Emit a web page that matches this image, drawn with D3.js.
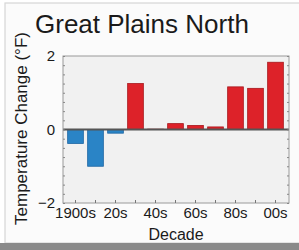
<!DOCTYPE html>
<html>
<head>
<meta charset="utf-8">
<script src="https://cdn.jsdelivr.net/npm/d3@7"></script>
<style>
  body { margin: 0; background: #ffffff; }
  text { font-family: "Liberation Sans", Arial, sans-serif; fill: #1a1a1a; }
</style>
</head>
<body>
<div id="chart"></div>
<script>
// data
var decades = ["1900s","10s","20s","30s","40s","50s","60s","70s","80s","90s","00s"];
var changes = [-0.38, -1.0, -0.1, 1.25, 0.01, 0.16, 0.11, 0.07, 1.16, 1.12, 1.83];
var tickLabels = ["1900s","20s","40s","60s","80s","00s"];
var yTicks = [-2, 0, 2];

var W = 299, H = 250;
var plot = { left: 63, right: 289, top: 56, bottom: 203 };

var svg = d3.select("#chart").append("svg")
    .attr("width", W)
    .attr("height", H);

// page frame
svg.append("rect").attr("x",0).attr("y",0).attr("width",W).attr("height",H).attr("fill","#ffffff");
svg.append("rect").attr("x",5).attr("y",3).attr("width",W).attr("height",240)
    .attr("fill","#fbfbfb").attr("stroke","#d6d6d6").attr("stroke-width",1.2);
svg.append("rect").attr("x",0).attr("y",243).attr("width",W).attr("height",7).attr("fill","#8a8a8a");

var xScale = d3.scaleBand()
    .domain(decades)
    .range([65.5, 285.5])
    .paddingInner(0.215)
    .paddingOuter(0.1075);
var yScale = d3.scaleLinear()
    .domain([-2, 2])
    .range([plot.bottom, plot.top]);

// plot background
svg.append("rect")
    .attr("x", plot.left).attr("y", plot.top)
    .attr("width", plot.right - plot.left).attr("height", plot.bottom - plot.top)
    .attr("fill", "#f1f1f1");

// bars
svg.selectAll(".bar")
    .data(changes)
    .enter().append("rect")
    .attr("class","bar")
    .attr("x", function(d,i){return xScale(decades[i])})
    .attr("width", xScale.bandwidth())
    .attr("y", function(d){return yScale(Math.max(0,d))})
    .attr("height", function(d){return Math.abs(yScale(d) - yScale(0))})
    .attr("fill", function(d){return d < 0 ? "#2a84c6" : "#dd2229"})
    .attr("stroke", function(d){return d < 0 ? "#1d66a3" : "#a8161b"})
    .attr("stroke-width", 0.8);

// zero line
svg.append("line")
    .attr("x1", plot.left).attr("x2", plot.right)
    .attr("y1", yScale(0)).attr("y2", yScale(0))
    .attr("stroke","#555555").attr("stroke-width",2);

// frame
svg.append("rect")
    .attr("x", plot.left).attr("y", plot.top)
    .attr("width", plot.right - plot.left).attr("height", plot.bottom - plot.top)
    .attr("fill","none").attr("stroke","#9a9a9a").attr("stroke-width",1);

// minor ticks every 0.25 on both sides, pointing in
var minor = d3.range(-2, 2.001, 0.25);
svg.append("g")
    .attr("transform","translate(" + plot.left + ",0)")
    .call(d3.axisRight(yScale).tickValues(minor).tickSize(2).tickFormat(""))
    .call(function(g){ g.select(".domain").remove(); g.selectAll("line").attr("stroke","#888"); });
svg.append("g")
    .attr("transform","translate(" + plot.right + ",0)")
    .call(d3.axisLeft(yScale).tickValues(minor).tickSize(2).tickFormat(""))
    .call(function(g){ g.select(".domain").remove(); g.selectAll("line").attr("stroke","#888"); });

// y labels
svg.append("g")
    .attr("transform","translate(" + plot.left + ",0)")
    .call(d3.axisLeft(yScale).tickValues(yTicks).tickSize(0).tickPadding(8).tickFormat(d3.format("d")))
    .call(function(g){
        g.select(".domain").remove();
        g.selectAll("text").style("font-size","15px").style("font-family","Liberation Sans, Arial, sans-serif").attr("fill","#1a1a1a");
    });

// x axis: ticks at each bar, labels every other one
svg.append("g")
    .attr("transform","translate(0," + plot.bottom + ")")
    .call(d3.axisTop(xScale).tickSize(3).tickFormat(""))
    .call(function(g){ g.select(".domain").remove(); g.selectAll("line").attr("stroke","#777"); });
svg.append("g")
    .attr("transform","translate(0," + plot.bottom + ")")
    .call(d3.axisBottom(xScale).tickValues(tickLabels).tickSize(0).tickPadding(4))
    .call(function(g){
        g.select(".domain").remove();
        g.selectAll("text").style("font-size","15px").style("font-family","Liberation Sans, Arial, sans-serif").attr("fill","#1a1a1a");
    });

// titles
svg.append("text")
    .attr("x", 35).attr("y", 33)
    .style("font-size","26px")
    .text("Great Plains North");
svg.append("text")
    .attr("x", (plot.left + plot.right)/2).attr("y", 240)
    .attr("text-anchor","middle")
    .style("font-size","16px")
    .text("Decade");
svg.append("text")
    .attr("transform","translate(27," + 128.5 + ") rotate(-90)")
    .attr("text-anchor","middle")
    .style("font-size","17px")
    .text("Temperature Change (°F)");
</script>
</body>
</html>
